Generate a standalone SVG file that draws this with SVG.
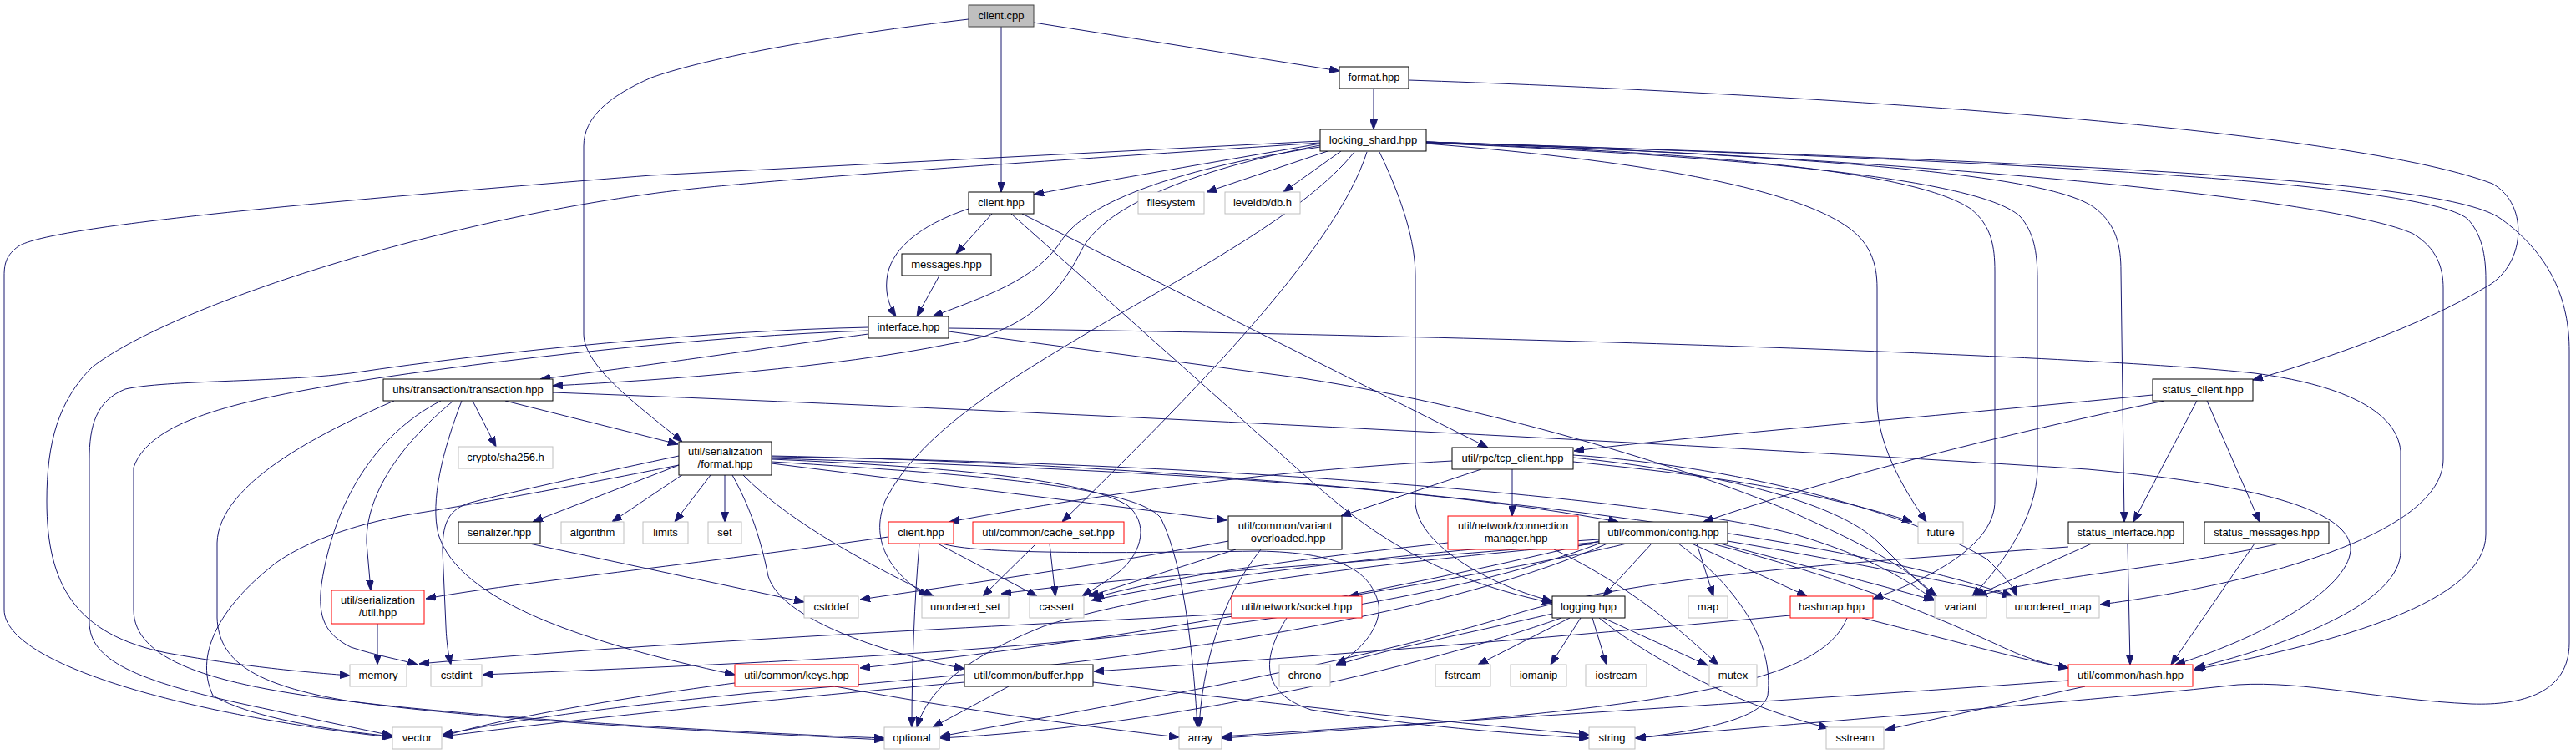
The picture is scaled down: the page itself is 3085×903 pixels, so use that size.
<svg xmlns="http://www.w3.org/2000/svg" width="3085" height="903" viewBox="0 0 3085 903">
<style>
.n rect{fill:#fff;stroke:#000;stroke-width:1}
.g rect{stroke:#bfbfbf}
.r rect{stroke:#ff0000}
.s rect{fill:#bfbfbf;stroke:#404040}
text{font-family:"Liberation Sans",Arial,sans-serif;font-size:13px;text-anchor:middle;fill:#000}
#connectors path{fill:none;stroke:#191970;stroke-width:1;marker-end:url(#ah)}
</style>
<defs>
<marker id="ah" viewBox="0 0 12 9" refX="12" refY="4.5" markerWidth="12" markerHeight="9" markerUnits="userSpaceOnUse" orient="auto">
<path d="M0,0 L12,4.5 L0,9 z" fill="#191970" stroke="#191970"/>
</marker>
</defs>
<rect width="3085" height="903" fill="#fff"/>
<g id="connectors">
<path d="M1199,32 L1199,230"/>
<path d="M1238,27 L1604,85"/>
<path d="M1160,23 C1000,42 850,68 780,93 C730,115 699,140 699,175 L699,400 C699,440 770,490 817,529"/>
<path d="M1645,106 L1645,155"/>
<path d="M1687,96 C2100,110 2800,150 2985,220 C3030,245 3025,320 2975,345 C2900,390 2780,432 2698,455"/>
<path d="M1581,172 C1450,195 1330,215 1238,233"/>
<path d="M1590,181 L1445,230"/>
<path d="M1606,181 L1537,230"/>
<path d="M1581,176 C1420,200 1300,240 1270,290 C1240,335 1180,355 1117,379"/>
<path d="M1581,174 C1420,205 1320,250 1295,300 C1265,360 1220,400 1137,412 C1000,440 800,455 662,462"/>
<path d="M1581,169 L780,210 C400,240 60,270 22,295 C8,305 5,315 5,330 L5,730 C5,800 250,860 470,883"/>
<path d="M1581,171 C1300,190 900,215 780,232 C500,270 200,370 110,440 C70,480 56,530 56,600 C56,700 90,760 200,782 C300,800 380,806 419,809"/>
<path d="M1637,182 C1600,300 1420,480 1272,625"/>
<path d="M1622,182 C1560,260 1400,340 1300,400 C1200,460 1100,520 1060,600 C1040,650 1070,690 1112,714"/>
<path d="M1652,182 C1680,240 1695,290 1695,330 L1695,600 C1695,650 1780,700 1859,720"/>
<path d="M1708,172 C2000,195 2150,230 2210,270 C2240,290 2248,315 2248,345 L2248,480 C2248,540 2290,600 2307,625"/>
<path d="M1708,171 C2100,185 2300,210 2360,250 C2385,270 2389,295 2389,325 L2389,600 C2389,650 2320,690 2243,717"/>
<path d="M1708,171 C2150,190 2380,220 2420,260 C2435,278 2440,300 2440,335 L2440,560 C2440,620 2395,680 2362,714"/>
<path d="M1708,170 C2200,188 2460,210 2510,250 C2535,270 2540,295 2540,325 L2544,625"/>
<path d="M1708,170 C2300,190 2800,238 2890,280 C2918,297 2926,320 2926,345 L2926,550 C2926,640 2700,700 2515,724"/>
<path d="M1708,170 C2400,192 2900,218 2955,262 C2972,280 2977,305 2977,335 L2977,640 C2977,720 2800,770 2627,802"/>
<path d="M1708,170 C2500,195 2930,215 2995,262 C3055,305 3077,360 3077,420 L3077,770 C3077,830 3020,845 2960,843 C2850,838 2760,815 2680,820 C2500,840 2200,862 1958,884"/>
<path d="M1188,256 L1145,304"/>
<path d="M1160,250 C1100,270 1065,300 1062,335 C1060,355 1067,370 1073,379"/>
<path d="M1224,256 L1782,536"/>
<path d="M1211,256 L1560,567 C1620,620 1700,690 1859,722"/>
<path d="M1125,330 L1098,379"/>
<path d="M1040,400 C950,412 820,432 647,454"/>
<path d="M1040,392 C850,396 600,420 420,447 C330,458 200,455 150,466 C115,480 107,510 107,550 L107,745 C107,790 160,815 300,845 C380,862 430,873 470,881"/>
<path d="M1040,396 C850,402 600,430 418,458 C300,478 180,500 160,560 L160,730 C160,790 250,820 420,840 C600,862 900,878 1059,884"/>
<path d="M1136,393 C1800,402 2500,425 2700,447 C2800,460 2870,490 2875,540 L2875,660 C2875,720 2750,770 2629,800"/>
<path d="M1136,397 L1560,453 C1800,490 2050,570 2150,615 C2250,660 2290,685 2318,714"/>
<path d="M566,480 L594,535"/>
<path d="M605,480 L812,532"/>
<path d="M543,480 C470,540 438,600 439,650 L444,707"/>
<path d="M553,480 C530,540 515,600 525,640 C550,720 700,770 880,808"/>
<path d="M528,480 C450,520 400,600 385,700 C380,740 390,760 420,775 C450,785 480,790 500,796"/>
<path d="M472,480 C380,520 262,580 260,650 L260,740 C262,790 300,820 420,840 C600,865 900,878 1059,886"/>
<path d="M662,470 C1200,490 2000,530 2500,562 C2700,580 2810,610 2815,655 C2818,700 2720,760 2605,796"/>
<path d="M813,557 L638,625"/>
<path d="M818,568 L733,625"/>
<path d="M851,569 L808,625"/>
<path d="M868,569 L868,625"/>
<path d="M890,569 C950,630 1050,680 1118,714"/>
<path d="M924,550 C1150,560 1300,575 1350,605 C1375,625 1370,660 1340,685 C1320,700 1305,708 1296,714"/>
<path d="M924,553 C1200,570 1360,585 1390,620 C1420,680 1430,800 1434,871"/>
<path d="M877,569 C900,610 912,650 920,690 C935,740 1050,780 1155,801"/>
<path d="M924,555 L1469,623"/>
<path d="M924,549 C1300,560 1700,580 1938,625"/>
<path d="M924,547 C1500,555 2000,600 2150,640 C2250,670 2290,700 2316,718"/>
<path d="M924,546 C1600,560 2200,640 2410,714"/>
<path d="M813,557 C700,580 560,605 510,613 C450,622 380,640 332,673 C270,720 230,780 255,833 C300,860 400,875 470,882"/>
<path d="M813,546 C700,570 600,592 560,603 C535,612 530,630 530,660 L534,750 C535,775 538,787 540,796"/>
<path d="M634,651 L963,721"/>
<path d="M1739,552 C1500,565 1300,595 1137,625"/>
<path d="M1774,562 L1606,618"/>
<path d="M1811,562 L1811,618"/>
<path d="M1884,553 C2000,565 2150,580 2290,625"/>
<path d="M1884,548 C2050,565 2200,600 2250,650 C2290,690 2305,705 2320,714"/>
<path d="M1884,545 C2100,560 2300,620 2380,670 C2400,690 2410,700 2415,714"/>
<path d="M2578,473 C2300,500 2000,525 1885,540"/>
<path d="M2592,480 C2400,520 2200,570 2040,625"/>
<path d="M2631,480 L2555,625"/>
<path d="M2643,480 L2706,625"/>
<path d="M1064,643 C800,680 600,700 510,717"/>
<path d="M1123,651 L1242,714"/>
<path d="M1101,651 C1095,720 1092,800 1092,871"/>
<path d="M1125,650 C1160,663 1300,663 1508,660 C1600,662 1640,680 1651,723 C1655,750 1630,780 1600,796"/>
<path d="M1241,651 L1177,714"/>
<path d="M1257,651 L1264,714"/>
<path d="M1471,648 C1300,680 1150,700 1030,718"/>
<path d="M1480,658 L1304,714"/>
<path d="M1510,658 C1460,720 1440,800 1436,871"/>
<path d="M1861,658 C1950,700 2020,760 2058,797"/>
<path d="M1734,650 C1550,670 1400,690 1310,716"/>
<path d="M1948,651 C1870,670 1700,700 1615,714"/>
<path d="M1978,651 L1920,714"/>
<path d="M2032,651 L2052,714"/>
<path d="M2026,651 L2164,714"/>
<path d="M2060,651 C2150,675 2250,700 2316,719"/>
<path d="M2069,648 C2200,670 2350,700 2410,714"/>
<path d="M2010,651 C2078,700 2125,767 2117,833 C2110,860 2040,875 1959,884"/>
<path d="M2050,651 C2200,690 2300,730 2394,773 C2430,790 2450,795 2477,800"/>
<path d="M1915,649 C1700,670 1400,685 1199,711"/>
<path d="M1915,646 C1700,660 1450,690 1307,719"/>
<path d="M1915,648 C1700,700 1400,760 1030,800"/>
<path d="M2144,737 C1900,760 1600,785 1310,804"/>
<path d="M1915,651 C1750,665 1400,700 1250,750 C1150,790 1110,830 1098,871"/>
<path d="M1925,651 C1700,750 1300,800 900,830 C700,850 600,865 530,880"/>
<path d="M1915,651 C1600,770 1000,790 578,808"/>
<path d="M1880,740 L1770,796"/>
<path d="M1893,740 L1857,796"/>
<path d="M1907,740 L1924,796"/>
<path d="M1920,740 L2045,797"/>
<path d="M1915,740 C1990,800 2100,850 2190,872"/>
<path d="M1859,735 C1750,760 1650,780 1600,797"/>
<path d="M1870,740 C1700,800 1400,870 1126,884"/>
<path d="M2230,740 C2350,770 2420,790 2477,800"/>
<path d="M2212,740 C2180,820 2000,850 1463,884"/>
<path d="M2477,815 C2200,835 1800,860 1464,882"/>
<path d="M2497,822 L2258,874"/>
<path d="M880,818 C750,835 600,860 530,882"/>
<path d="M1000,822 C1150,850 1300,870 1412,883"/>
<path d="M1208,822 L1117,871"/>
<path d="M1155,817 C900,840 700,860 530,882"/>
<path d="M1309,817 C1500,840 1700,862 1903,880"/>
<path d="M1541,740 C1510,790 1510,830 1570,850 C1700,870 1800,878 1903,884"/>
<path d="M1475,735 C1200,750 800,768 502,795"/>
<path d="M452,747 L452,796"/>
<path d="M2505,651 L2365,714"/>
<path d="M2548,651 L2551,796"/>
<path d="M2477,655 C2200,675 1950,690 1800,740 C1600,800 1300,850 1126,882"/>
<path d="M2730,651 C2600,680 2450,690 2368,714"/>
<path d="M2700,651 L2600,796"/>
</g>
<g id="node_client_cpp" class="n s"><rect x="1160" y="6" width="78" height="26"/><text x="1199" y="23">client.cpp</text></g>
<g id="node_format_hpp" class="n"><rect x="1604" y="80" width="83" height="26"/><text x="1645.5" y="97">format.hpp</text></g>
<g id="node_locking_shard" class="n"><rect x="1581" y="155" width="127" height="26"/><text x="1644.5" y="172">locking_shard.hpp</text></g>
<g id="node_client_hpp" class="n"><rect x="1160" y="230" width="78" height="26"/><text x="1199" y="247">client.hpp</text></g>
<g id="node_filesystem" class="n g"><rect x="1363" y="230" width="79" height="26"/><text x="1402.5" y="247">filesystem</text></g>
<g id="node_leveldb" class="n g"><rect x="1467" y="230" width="90" height="26"/><text x="1512" y="247">leveldb/db.h</text></g>
<g id="node_messages" class="n"><rect x="1080" y="304" width="107" height="26"/><text x="1133.5" y="321">messages.hpp</text></g>
<g id="node_interface" class="n"><rect x="1040" y="379" width="96" height="26"/><text x="1088" y="396">interface.hpp</text></g>
<g id="node_transaction" class="n"><rect x="459" y="454" width="203" height="26"/><text x="560.5" y="471">uhs/transaction/transaction.hpp</text></g>
<g id="node_status_client" class="n"><rect x="2578" y="454" width="120" height="26"/><text x="2638" y="471">status_client.hpp</text></g>
<g id="node_sha256" class="n g"><rect x="549" y="535" width="113" height="26"/><text x="605.5" y="552">crypto/sha256.h</text></g>
<g id="node_ser_format" class="n"><rect x="813" y="529" width="111" height="40"/><text x="868.5" y="544.5">util/serialization</text><text x="868.5" y="559.5">/format.hpp</text></g>
<g id="node_tcp_client" class="n"><rect x="1739" y="536" width="145" height="26"/><text x="1811.5" y="553">util/rpc/tcp_client.hpp</text></g>
<g id="node_serializer" class="n"><rect x="549" y="625" width="98" height="26"/><text x="598" y="642">serializer.hpp</text></g>
<g id="node_algorithm" class="n g"><rect x="672" y="625" width="75" height="26"/><text x="709.5" y="642">algorithm</text></g>
<g id="node_limits" class="n g"><rect x="770" y="625" width="54" height="26"/><text x="797" y="642">limits</text></g>
<g id="node_set" class="n g"><rect x="848" y="625" width="40" height="26"/><text x="868" y="642">set</text></g>
<g id="node_rpc_client" class="n r"><rect x="1064" y="625" width="78" height="26"/><text x="1103" y="642">client.hpp</text></g>
<g id="node_cache_set" class="n r"><rect x="1165" y="625" width="181" height="26"/><text x="1255.5" y="642">util/common/cache_set.hpp</text></g>
<g id="node_variant_overloaded" class="n"><rect x="1471" y="618" width="136" height="40"/><text x="1539" y="633.5">util/common/variant</text><text x="1539" y="648.5">_overloaded.hpp</text></g>
<g id="node_connection_manager" class="n r"><rect x="1734" y="618" width="156" height="40"/><text x="1812" y="633.5">util/network/connection</text><text x="1812" y="648.5">_manager.hpp</text></g>
<g id="node_config" class="n"><rect x="1915" y="625" width="154" height="26"/><text x="1992" y="642">util/common/config.hpp</text></g>
<g id="node_future" class="n g"><rect x="2297" y="625" width="54" height="26"/><text x="2324" y="642">future</text></g>
<g id="node_status_interface" class="n"><rect x="2477" y="625" width="138" height="26"/><text x="2546" y="642">status_interface.hpp</text></g>
<g id="node_status_messages" class="n"><rect x="2640" y="625" width="149" height="26"/><text x="2714.5" y="642">status_messages.hpp</text></g>
<g id="node_ser_util" class="n r"><rect x="397" y="707" width="111" height="40"/><text x="452.5" y="722.5">util/serialization</text><text x="452.5" y="737.5">/util.hpp</text></g>
<g id="node_cstddef" class="n g"><rect x="963" y="714" width="65" height="26"/><text x="995.5" y="731">cstddef</text></g>
<g id="node_unordered_set" class="n g"><rect x="1104" y="714" width="104" height="26"/><text x="1156" y="731">unordered_set</text></g>
<g id="node_cassert" class="n g"><rect x="1233" y="714" width="65" height="26"/><text x="1265.5" y="731">cassert</text></g>
<g id="node_socket" class="n r"><rect x="1475" y="714" width="156" height="26"/><text x="1553" y="731">util/network/socket.hpp</text></g>
<g id="node_logging" class="n"><rect x="1859" y="714" width="87" height="26"/><text x="1902.5" y="731">logging.hpp</text></g>
<g id="node_map" class="n g"><rect x="2022" y="714" width="47" height="26"/><text x="2045.5" y="731">map</text></g>
<g id="node_hashmap" class="n r"><rect x="2144" y="714" width="99" height="26"/><text x="2193.5" y="731">hashmap.hpp</text></g>
<g id="node_variant" class="n g"><rect x="2317" y="714" width="62" height="26"/><text x="2348" y="731">variant</text></g>
<g id="node_unordered_map" class="n g"><rect x="2403" y="714" width="111" height="26"/><text x="2458.5" y="731">unordered_map</text></g>
<g id="node_memory" class="n g"><rect x="419" y="796" width="68" height="26"/><text x="453" y="813">memory</text></g>
<g id="node_cstdint" class="n g"><rect x="516" y="796" width="61" height="26"/><text x="546.5" y="813">cstdint</text></g>
<g id="node_keys" class="n r"><rect x="880" y="796" width="148" height="26"/><text x="954" y="813">util/common/keys.hpp</text></g>
<g id="node_buffer" class="n"><rect x="1155" y="796" width="154" height="26"/><text x="1232" y="813">util/common/buffer.hpp</text></g>
<g id="node_chrono" class="n g"><rect x="1532" y="796" width="61" height="26"/><text x="1562.5" y="813">chrono</text></g>
<g id="node_fstream" class="n g"><rect x="1719" y="796" width="66" height="26"/><text x="1752" y="813">fstream</text></g>
<g id="node_iomanip" class="n g"><rect x="1809" y="796" width="67" height="26"/><text x="1842.5" y="813">iomanip</text></g>
<g id="node_iostream" class="n g"><rect x="1899" y="796" width="73" height="26"/><text x="1935.5" y="813">iostream</text></g>
<g id="node_mutex" class="n g"><rect x="2047" y="796" width="57" height="26"/><text x="2075.5" y="813">mutex</text></g>
<g id="node_hash" class="n r"><rect x="2477" y="796" width="149" height="26"/><text x="2551.5" y="813">util/common/hash.hpp</text></g>
<g id="node_vector" class="n g"><rect x="470" y="871" width="59" height="26"/><text x="499.5" y="888">vector</text></g>
<g id="node_optional" class="n g"><rect x="1059" y="871" width="66" height="26"/><text x="1092" y="888">optional</text></g>
<g id="node_array" class="n g"><rect x="1412" y="871" width="51" height="26"/><text x="1437.5" y="888">array</text></g>
<g id="node_string" class="n g"><rect x="1903" y="871" width="55" height="26"/><text x="1930.5" y="888">string</text></g>
<g id="node_sstream" class="n g"><rect x="2187" y="871" width="69" height="26"/><text x="2221.5" y="888">sstream</text></g>
</svg>
